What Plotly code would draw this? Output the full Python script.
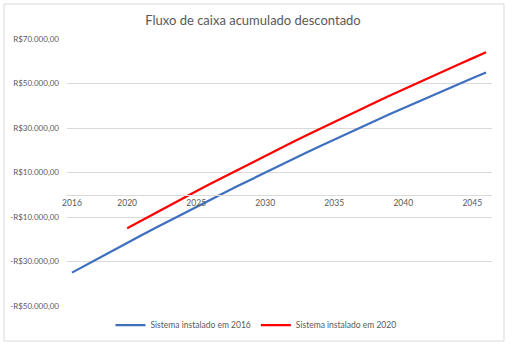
import plotly.graph_objects as go

# Cumulative discounted cash flow (R$) per year
years_2016 = list(range(2016, 2047))
flow_2016 = [-35000, -31610, -28250, -24910, -21600, -18320, -15070, -11840, -8640, -5460,
             -2320, 810, 3900, 6960, 10000, 13020, 16000, 18960, 21890, 24790,
             27670, 30520, 33340, 36140, 38910, 41650, 44370, 47050, 49710, 52350, 54960]

years_2020 = list(range(2020, 2047))
flow_2020 = [-15100, -11720, -8370, -5040, -1740, 1530, 4780, 7990, 11180, 14350,
             17490, 20600, 23680, 26730, 29760, 32770, 35740, 38690, 41610, 44500,
             47370, 50210, 53020, 55810, 58570, 61300, 64010]

x_ticks = [2016, 2020, 2025, 2030, 2035, 2040, 2045]
y_ticks = [70000, 50000, 30000, 10000, -10000, -30000, -50000]
y_labels = ["R$70.000,00", "R$50.000,00", "R$30.000,00", "R$10.000,00",
            "-R$10.000,00", "-R$30.000,00", "-R$50.000,00"]

names = ["Sistema instalado em 2016", "Sistema instalado em 2020"]
colors = ["#3f6fbf", "#ff0000"]

font_family = "Lato, 'Liberation Sans', sans-serif"
gray = "#595959"

fig = go.Figure()
fig.add_trace(go.Scatter(x=years_2016, y=flow_2016, mode="lines", name=names[0],
                         line=dict(color=colors[0], width=2.25)))
fig.add_trace(go.Scatter(x=years_2020, y=flow_2020, mode="lines", name=names[1],
                         line=dict(color=colors[1], width=2.25)))

y_min, y_max = -50000, 70000
zero_pos = (0 - y_min) / (y_max - y_min)

W, H = 512, 346
ml, mr, mt, mb = 67, 20, 39, 40
pw, ph = W - ml - mr, H - mt - mb

def px_to_paper_x(px):
    return (px - ml) / pw

def px_to_paper_y(py):
    return (H - mb - py) / ph

fig.update_layout(
    width=W, height=H,
    margin=dict(l=ml, r=mr, t=mt, b=mb, autoexpand=False),
    paper_bgcolor="white", plot_bgcolor="white",
    font=dict(family=font_family, size=8.5, color=gray),
    title=dict(text="Fluxo de caixa acumulado descontado",
               x=253 / W, xref="container", xanchor="center",
               y=1 - 20 / H, yref="container", yanchor="middle",
               font=dict(family=font_family, size=13, color=gray)),
    xaxis=dict(range=[2015.64, 2046.43], tickmode="array", tickvals=x_ticks,
               showgrid=False, zeroline=False, showline=True, linecolor="#d9d9d9",
               linewidth=1, anchor="free", position=zero_pos, ticks="",
               tickangle=0, tickfont=dict(size=8.5, color=gray)),
    yaxis=dict(range=[y_min, y_max], tickmode="array", tickvals=y_ticks, ticktext=y_labels,
               showgrid=True, gridcolor="#d9d9d9", gridwidth=1, zeroline=False,
               showline=False, ticks="", ticklabelstandoff=7,
               tickfont=dict(size=8, color=gray)),
    legend=dict(orientation="h", x=px_to_paper_x(256), xanchor="center", xref="paper",
                y=px_to_paper_y(325), yanchor="middle", yref="paper",
                font=dict(size=8.5, color=gray), itemwidth=30,
                bgcolor="rgba(0,0,0,0)"),
    showlegend=True,
    shapes=[dict(type="rect", xref="paper", yref="paper",
                 x0=px_to_paper_x(4), x1=px_to_paper_x(504),
                 y0=px_to_paper_y(341), y1=px_to_paper_y(4),
                 line=dict(color="#d9d9d9", width=1), fillcolor="rgba(0,0,0,0)",
                 layer="below")],
)

fig.write_html("out.html")
